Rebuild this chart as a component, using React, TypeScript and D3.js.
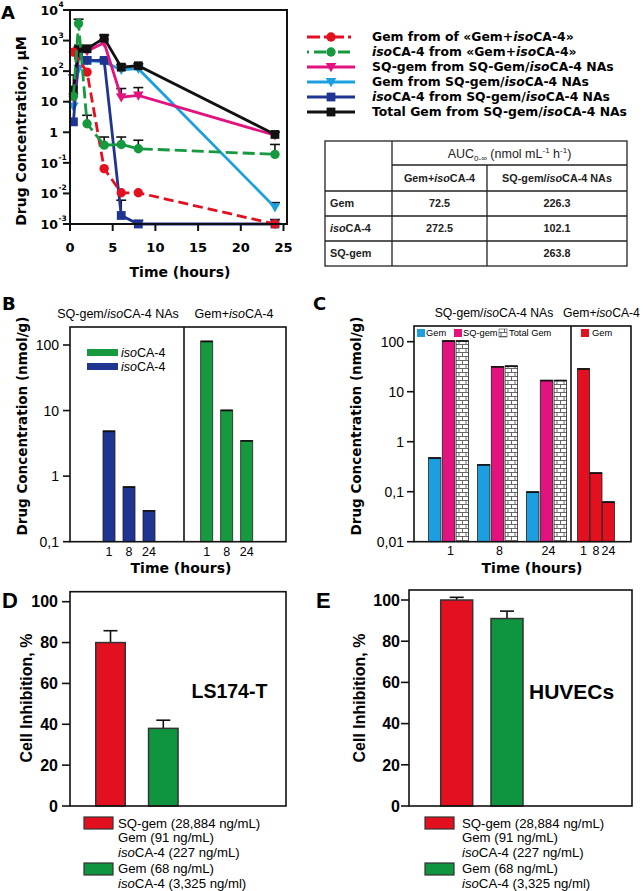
import React from "react";
import * as d3 from "d3";

// ---------------- Panel A data (plasma PK) ----------------
const timesA = [0.4, 1, 2, 4, 6, 8, 24];
const gemFreeTimes = [0.4, 2, 4, 6, 8, 24];
const gemFreeValues = [420, 93, 0.065, 0.0105, 0.0105, 0.001];
const isoFreeValues = [15, 3600, 1.9, 0.38, 0.4, 0.29, 0.19];
const isoFreeErr = [null, 5000, 3.6, 0.7, 0.7, 0.55, 0.4];
const sqGemValues = [14, 450, 450, 850, 14, 16, 0.8];
const sqGemErr = [null, null, null, null, 27, 29, null];
const gemNAValues = [7, 120, 220, 200, 110, 120, 0.0035];
const gemNAErr = [null, null, null, null, null, null, 0.005];
const isoNAValues = [2.2, 330, 225, 225, 0.0019, 0.001, 0.001];
const isoNAErr = [null, null, null, null, 0.006, 0.0013, 0.0014];
const totalGemValues = [24, 540, 540, 1200, 135, 150, 0.85];
const totalGemErr = [75, 620, 620, 1500, 165, 175, 1.0];
const xTicksA = [0, 5, 10, 15, 20, 25];
const yTicksA = [1e-3, 1e-2, 1e-1, 1, 10, 100, 1e3, 1e4];
const yTickBaseA = ["10", "10", "10", "1", "10", "10", "10", "10"];
const yTickExpA = ["-3", "-2", "-1", "", "", "2", "3", "4"];

// ---------------- AUC table ----------------
const aucRowLabels = [["Gem", ""], ["iso", "CA-4"], ["SQ-gem", ""]];
const aucFree = ["72.5", "272.5", ""];
const aucNA = ["226.3", "102.1", "263.8"];

// ---------------- Panel B data (tumour isoCA-4) ----------------
const hoursB = ["1", "8", "24"];
const isoNATissue = [4.9, 0.69, 0.3];
const isoFreeTissue = [115, 10.2, 3.5];
const yTicksB = [0.1, 1, 10, 100];
const yTickLabelsB = ["0,1", "1", "10", "100"];

// ---------------- Panel C data (tumour Gem) ----------------
const hoursC = ["1", "8", "24"];
const seriesC = ["Gem", "SQ-gem", "Total Gem"];
const gemNATissue = [0.48, 0.35, 0.1];
const sqGemTissue = [105, 32, 17];
const totalGemTissue = [105, 33, 17];
const gemFreeTissue = [29, 0.24, 0.063];
const yTicksC = [0.01, 0.1, 1, 10, 100];
const yTickLabelsC = ["0,01", "0,1", "1", "10", "100"];

// ---------------- Panel D / E data ----------------
const cellGroups = ["SQ-gem/isoCA-4 NAs", "Gem+isoCA-4"];
const ls174Values = [80, 38];
const ls174Err = [85.8, 42];
const huvecValues = [100, 91];
const huvecErr = [101.3, 94.6];
const yTicksDE = [0, 20, 40, 60, 80, 100];

const FV = "'DejaVu Sans', Verdana, sans-serif";
const FA = "'Liberation Sans', Arial, sans-serif";

const C_RED = "#e3101f";
const C_GREEN = "#17993f";
const C_MAG = "#e2137f";
const C_LBLUE = "#1b9fe0";
const C_NAVY = "#1f3591";
const C_BLACK = "#111";

type Seg = [string, boolean];

function Segs({ parts }: { parts: Seg[] }) {
  return (
    <>
      {parts.map((p, i) => (
        <tspan key={i} fontStyle={p[1] ? "italic" : "normal"}>
          {p[0]}
        </tspan>
      ))}
    </>
  );
}

function Marker({ type, x, y, color }: { type: string; x: number; y: number; color: string }) {
  if (type === "circ") return <circle cx={x} cy={y} r={4.7} fill={color} />;
  if (type === "sq") return <rect x={x - 4.4} y={y - 4.4} width={8.8} height={8.8} fill={color} />;
  return <path d={`M${x - 5.3},${y - 4}L${x + 5.3},${y - 4}L${x},${y + 5.2}Z`} fill={color} />;
}

// ---------------- Panel A ----------------
function PanelA() {
  const xA = d3.scaleLinear().domain([0, 25]).range([70, 283.5]);
  const yA = d3.scaleLog().domain([1e-3, 1e4]).range([224, 10]);
  const series = [
    { key: "gemNA", t: timesA, v: gemNAValues, e: gemNAErr, color: C_LBLUE, dash: "", m: "tri" },
    { key: "isoNA", t: timesA, v: isoNAValues, e: isoNAErr, color: C_NAVY, dash: "", m: "sq" },
    { key: "sqGem", t: timesA, v: sqGemValues, e: sqGemErr, color: C_MAG, dash: "", m: "tri" },
    { key: "total", t: timesA, v: totalGemValues, e: totalGemErr, color: C_BLACK, dash: "", m: "sq" },
    { key: "gemFree", t: gemFreeTimes, v: gemFreeValues, e: gemFreeValues.map(() => null), color: C_RED, dash: "10,5", m: "circ" },
    { key: "isoFree", t: timesA, v: isoFreeValues, e: isoFreeErr, color: C_GREEN, dash: "12,5", m: "circ" },
  ];
  const line = d3
    .line<[number, number]>()
    .x((d) => xA(d[0]))
    .y((d) => yA(d[1]));

  const legend: { parts: Seg[]; color: string; dash: string; m: string }[] = [
    { parts: [["Gem from of «Gem+", false], ["iso", true], ["CA-4»", false]], color: C_RED, dash: "13,4,3,4", m: "circ" },
    { parts: [["iso", true], ["CA-4 from «Gem+", false], ["iso", true], ["CA-4»", false]], color: C_GREEN, dash: "2,5,12,5", m: "circ" },
    { parts: [["SQ-gem from SQ-Gem/", false], ["iso", true], ["CA-4 NAs", false]], color: C_MAG, dash: "", m: "tri" },
    { parts: [["Gem from SQ-gem/", false], ["iso", true], ["CA-4 NAs", false]], color: C_LBLUE, dash: "", m: "tri" },
    { parts: [["iso", true], ["CA-4 from SQ-gem/", false], ["iso", true], ["CA-4 NAs", false]], color: C_NAVY, dash: "", m: "sq" },
    { parts: [["Total Gem from SQ-gem/", false], ["iso", true], ["CA-4 NAs", false]], color: C_BLACK, dash: "", m: "sq" },
  ];

  return (
    <g>
      <text x={1} y={19} fontFamily={FV} fontWeight="bold" fontSize={18}>A</text>
      {/* error bars */}
      {series.map((s) =>
        s.v.map((v, i) => {
          const e = s.e[i];
          if (e == null) return null;
          const x = xA(s.t[i]);
          return (
            <g key={s.key + "e" + i} stroke={C_BLACK} strokeWidth={1.6}>
              <line x1={x} x2={x} y1={yA(v)} y2={yA(e)} />
              <line x1={x - 5} x2={x + 5} y1={yA(e)} y2={yA(e)} />
            </g>
          );
        })
      )}
      {series.map((s) => (
        <g key={s.key}>
          <path
            d={line(s.t.map((t, i) => [t, s.v[i]] as [number, number])) || ""}
            fill="none"
            stroke={s.color}
            strokeWidth={2.8}
            strokeDasharray={s.dash || undefined}
          />
          {s.v.map((v, i) => (
            <Marker key={i} type={s.m} x={xA(s.t[i])} y={yA(v)} color={s.color} />
          ))}
        </g>
      ))}
      {/* frame */}
      <rect x={70} y={10} width={217} height={214} fill="none" stroke="#111" strokeWidth={2} />
      {/* y ticks */}
      {yTicksA.map((t, i) => (
        <g key={t}>
          <line x1={63} x2={70} y1={yA(t)} y2={yA(t)} stroke="#111" strokeWidth={2} />
          <text x={58} y={yA(t)} dy="0.38em" textAnchor="end" fontFamily={FV} fontWeight="bold" fontSize={12.5}>
            {yTickBaseA[i]}
          </text>
          {yTickExpA[i] && (
            <text x={58.5} y={yA(t) - 3} textAnchor="start" fontFamily={FV} fontWeight="bold" fontSize={7.5}>
              {yTickExpA[i]}
            </text>
          )}
        </g>
      ))}
      {/* x ticks */}
      {xTicksA.map((t) => (
        <g key={t}>
          <line x1={xA(t)} x2={xA(t)} y1={224} y2={231} stroke="#111" strokeWidth={2} />
          <text x={xA(t)} y={252} textAnchor="middle" fontFamily={FV} fontWeight="bold" fontSize={13}>
            {t}
          </text>
        </g>
      ))}
      <text x={180} y={277} textAnchor="middle" fontFamily={FV} fontWeight="bold" fontSize={14}>
        Time (hours)
      </text>
      <text
        transform={`translate(21,131) rotate(-90)`}
        textAnchor="middle"
        dy="0.36em"
        fontFamily={FV}
        fontWeight="bold"
        fontSize={14}
      >
        Drug Concentration, μM
      </text>
      {/* legend */}
      {legend.map((l, i) => {
        const y = 37 + i * 15;
        return (
          <g key={i}>
            <line x1={307} x2={355} y1={y} y2={y} stroke={l.color} strokeWidth={2.8} strokeDasharray={l.dash || undefined} />
            <Marker type={l.m} x={331} y={y} color={l.color} />
            <text x={372} y={y} dy="0.36em" fontFamily={FV} fontWeight="bold" fontSize={12.4}>
              <Segs parts={l.parts} />
            </text>
          </g>
        );
      })}
    </g>
  );
}

// ---------------- AUC Table ----------------
function AucTable() {
  const x0 = 325, x1 = 392, x2 = 487, x3 = 627;
  const rows = [141, 165, 191, 216, 241, 266];
  const fs = 10.8;
  return (
    <g fontFamily={FA} fontWeight="bold" fontSize={fs} fill="#222">
      <rect x={x0} y={rows[0]} width={x3 - x0} height={rows[5] - rows[0]} fill="none" stroke="#222" strokeWidth={1.3} />
      <line x1={x1} x2={x1} y1={rows[0]} y2={rows[5]} stroke="#222" strokeWidth={1.3} />
      <line x1={x2} x2={x2} y1={rows[1]} y2={rows[5]} stroke="#222" strokeWidth={1.3} />
      <line x1={x1} x2={x3} y1={rows[1]} y2={rows[1]} stroke="#222" strokeWidth={1.3} />
      {[2, 3, 4].map((r) => (
        <line key={r} x1={x0} x2={x3} y1={rows[r]} y2={rows[r]} stroke="#222" strokeWidth={1.3} />
      ))}
      <text x={(x1 + x3) / 2} y={(rows[0] + rows[1]) / 2} dy="0.36em" textAnchor="middle" fontWeight="normal" fontSize={12.5}>
        AUC<tspan fontSize={8} dy={3}>0-∞</tspan>
        <tspan dy={-3}> (nmol mL</tspan>
        <tspan fontSize={8} dy={-4.5}>-1</tspan>
        <tspan dy={4.5}> h</tspan>
        <tspan fontSize={8} dy={-4.5}>-1</tspan>
        <tspan dy={4.5}>)</tspan>
      </text>
      <text x={(x1 + x2) / 2} y={(rows[1] + rows[2]) / 2} dy="0.36em" textAnchor="middle">
        <Segs parts={[["Gem+", false], ["iso", true], ["CA-4", false]]} />
      </text>
      <text x={(x2 + x3) / 2} y={(rows[1] + rows[2]) / 2} dy="0.36em" textAnchor="middle">
        <Segs parts={[["SQ-gem/", false], ["iso", true], ["CA-4 NAs", false]]} />
      </text>
      {aucRowLabels.map((lab, i) => {
        const y = (rows[i + 2] + rows[i + 3]) / 2;
        return (
          <g key={i}>
            <text x={330} y={y} dy="0.36em">
              {lab[1] ? (
                <Segs parts={[[lab[0], true], [lab[1], false]]} />
              ) : (
                lab[0]
              )}
            </text>
            <text x={(x1 + x2) / 2} y={y} dy="0.36em" textAnchor="middle">{aucFree[i]}</text>
            <text x={(x2 + x3) / 2} y={y} dy="0.36em" textAnchor="middle">{aucNA[i]}</text>
          </g>
        );
      })}
    </g>
  );
}

function Bar({ x, w, y0, y1, fill }: { x: number; w: number; y0: number; y1: number; fill: string }) {
  return (
    <g>
      <rect x={x} y={y1} width={w} height={y0 - y1} fill={fill} stroke="#222" strokeWidth={0.8} />
      <line x1={x} x2={x + w} y1={y1 + 0.5} y2={y1 + 0.5} stroke="#111" strokeWidth={1.6} />
    </g>
  );
}

// ---------------- Panel B ----------------
function PanelB() {
  const yB = d3.scaleLog().domain([0.1, 100]).range([541.7, 345]);
  const xB1 = d3.scaleBand().domain(hoursB).range([99, 159]);
  const xB2 = d3.scaleBand().domain(hoursB).range([196.7, 256.7]);
  const bw = 12;
  const L = 70, R = 286, T = 327, Bt = 541.7, D = 184;
  return (
    <g>
      <text x={2} y={310} fontFamily={FV} fontWeight="bold" fontSize={18}>B</text>
      <text x={118} y={318} textAnchor="middle" fontFamily={FA} fontSize={12.5}>
        <Segs parts={[["SQ-gem/", false], ["iso", true], ["CA-4 NAs", false]]} />
      </text>
      <text x={234} y={318} textAnchor="middle" fontFamily={FA} fontSize={12.5}>
        <Segs parts={[["Gem+", false], ["iso", true], ["CA-4", false]]} />
      </text>
      {hoursB.map((h, i) => (
        <g key={h}>
          <Bar x={(xB1(h) as number) + (xB1.bandwidth() - bw) / 2} w={bw} y0={Bt} y1={yB(isoNATissue[i])} fill={C_NAVY} />
          <Bar x={(xB2(h) as number) + (xB2.bandwidth() - bw) / 2} w={bw} y0={Bt} y1={yB(isoFreeTissue[i])} fill={C_GREEN} />
          <text x={(xB1(h) as number) + xB1.bandwidth() / 2} y={556} textAnchor="middle" fontFamily={FA} fontSize={12.5}>{h}</text>
          <text x={(xB2(h) as number) + xB2.bandwidth() / 2} y={556} textAnchor="middle" fontFamily={FA} fontSize={12.5}>{h}</text>
        </g>
      ))}
      <g stroke="#111" strokeWidth={1.6} fill="none">
        <rect x={L} y={T} width={R - L} height={Bt - T} />
        <line x1={D} x2={D} y1={T} y2={Bt} />
      </g>
      {yTicksB.map((t, i) => (
        <g key={t}>
          <line x1={63} x2={L} y1={yB(t)} y2={yB(t)} stroke="#111" strokeWidth={1.6} />
          <text x={59} y={yB(t)} dy="0.36em" textAnchor="end" fontFamily={FA} fontSize={14}>{yTickLabelsB[i]}</text>
        </g>
      ))}
      {/* legend */}
      <rect x={87} y={349} width={31} height={7} fill={C_GREEN} />
      <rect x={87} y={363} width={31} height={7} fill={C_NAVY} />
      <text x={121} y={352.5} dy="0.36em" fontFamily={FA} fontSize={12.5}>
        <Segs parts={[["iso", true], ["CA-4", false]]} />
      </text>
      <text x={121} y={366.5} dy="0.36em" fontFamily={FA} fontSize={12.5}>
        <Segs parts={[["iso", true], ["CA-4", false]]} />
      </text>
      <text x={181} y={573} textAnchor="middle" fontFamily={FV} fontWeight="bold" fontSize={14}>Time (hours)</text>
      <text transform={`translate(22,426) rotate(-90)`} textAnchor="middle" dy="0.36em" fontFamily={FV} fontWeight="bold" fontSize={13.5}>
        Drug Concentration  (nmol/g)
      </text>
    </g>
  );
}

// ---------------- Panel C ----------------
function PanelC() {
  const yC = d3.scaleLog().domain([0.01, 100]).range([541.7, 341.7]);
  const xG = d3.scaleBand().domain(hoursC).range([424, 571]);
  const xS = d3.scaleBand().domain(seriesC).range([-20, 20]).paddingInner(0.1);
  const xR = d3.scaleBand().domain(hoursC).range([577.5, 615]);
  const L = 414, R = 631, T = 326, Bt = 541.7, D = 571;
  const valsC = [gemNATissue, sqGemTissue, totalGemTissue];
  const fills = [C_LBLUE, C_MAG, "url(#brick)"];
  return (
    <g>
      <text x={313} y={310} fontFamily={FV} fontWeight="bold" fontSize={18}>C</text>
      <text x={494} y={317} textAnchor="middle" fontFamily={FA} fontSize={12.2}>
        <Segs parts={[["SQ-gem/", false], ["iso", true], ["CA-4 NAs", false]]} />
      </text>
      <text x={563} y={317} textAnchor="start" fontFamily={FA} fontSize={12.2}>
        <Segs parts={[["Gem+", false], ["iso", true], ["CA-4", false]]} />
      </text>
      {hoursC.map((h, i) => {
        const cx = (xG(h) as number) + xG.bandwidth() / 2;
        return (
          <g key={h}>
            {seriesC.map((s, j) => (
              <Bar key={s} x={cx + (xS(s) as number)} w={xS.bandwidth()} y0={Bt} y1={yC(valsC[j][i])} fill={fills[j]} />
            ))}
            <Bar x={(xR(h) as number)} w={12} y0={Bt} y1={yC(gemFreeTissue[i])} fill={C_RED} />
            <text x={cx + 2} y={555} textAnchor="middle" fontFamily={FA} fontSize={12.5}>{h}</text>
            <text x={(xR(h) as number) + 6} y={555} textAnchor="middle" fontFamily={FA} fontSize={12.5}>{h}</text>
          </g>
        );
      })}
      <g stroke="#111" strokeWidth={1.6} fill="none">
        <rect x={L} y={T} width={R - L} height={Bt - T} />
        <line x1={D} x2={D} y1={T} y2={Bt} />
      </g>
      {yTicksC.map((t, i) => (
        <g key={t}>
          <line x1={407} x2={L} y1={yC(t)} y2={yC(t)} stroke="#111" strokeWidth={1.6} />
          <text x={404} y={yC(t)} dy="0.36em" textAnchor="end" fontFamily={FA} fontSize={14}>{yTickLabelsC[i]}</text>
        </g>
      ))}
      {/* legend */}
      <g fontFamily={FA} fontSize={9.3}>
        <rect x={417} y={329} width={8} height={8} fill={C_LBLUE} />
        <text x={426} y={333} dy="0.36em">Gem</text>
        <rect x={454} y={329} width={8} height={8} fill={C_MAG} />
        <text x={463} y={333} dy="0.36em">SQ-gem</text>
        <rect x={499} y={329} width={8} height={8} fill="url(#brick)" stroke="#444" strokeWidth={0.6} />
        <text x={509} y={333} dy="0.36em">Total Gem</text>
        <rect x={581} y={329} width={8} height={8} fill={C_RED} />
        <text x={592} y={333} dy="0.36em">Gem</text>
      </g>
      <text x={532} y={573} textAnchor="middle" fontFamily={FV} fontWeight="bold" fontSize={14}>Time (hours)</text>
      <text transform={`translate(356,426) rotate(-90)`} textAnchor="middle" dy="0.36em" fontFamily={FV} fontWeight="bold" fontSize={13.5}>
        Drug Concentration  (nmol/g)
      </text>
    </g>
  );
}

// ---------------- Panels D & E ----------------
function CellPanel({
  letter, lx, values, errs, L, R, T, y100, barX, barW, name, nameX, ylabX, labX, legX, legSwX, nameSize,
}: {
  letter: string; lx: number; values: number[]; errs: number[]; L: number; R: number; T: number; y100: number;
  barX: [number, number]; barW: number; name: string; nameX: number; ylabX: number; labX: number; legX: number; legSwX: number; nameSize: number;
}) {
  const Bt = 806;
  const y = d3.scaleLinear().domain([0, 100]).range([Bt, y100]);
  const x = d3.scalePoint().domain(cellGroups).range(barX);
  const colors = [C_RED, "#0f9440"];
  const legLines: Seg[][] = [
    [["SQ-gem (28,884 ng/mL)", false]],
    [["Gem (91 ng/mL)", false]],
    [["iso", true], ["CA-4 (227 ng/mL)", false]],
    [["Gem (68 ng/mL)", false]],
    [["iso", true], ["CA-4 (3,325 ng/ml)", false]],
  ];
  return (
    <g>
      <text x={lx} y={608} fontFamily={FA} fontWeight="bold" fontSize={22}>{letter}</text>
      {cellGroups.map((g, i) => {
        const cx = x(g) as number;
        return (
          <g key={g}>
            <line x1={cx} x2={cx} y1={y(values[i])} y2={y(errs[i])} stroke="#111" strokeWidth={1.6} />
            <line x1={cx - 7} x2={cx + 7} y1={y(errs[i])} y2={y(errs[i])} stroke="#111" strokeWidth={1.6} />
            <rect x={cx - barW / 2} y={y(values[i])} width={barW} height={Bt - y(values[i])} fill={colors[i]} stroke="#333" strokeWidth={1.5} />
          </g>
        );
      })}
      <rect x={L} y={T} width={R - L} height={Bt - T} fill="none" stroke="#111" strokeWidth={1.6} />
      {yTicksDE.map((t) => (
        <g key={t}>
          <line x1={L - 8} x2={L} y1={y(t)} y2={y(t)} stroke="#111" strokeWidth={1.6} />
          <text x={labX} y={y(t)} dy="0.36em" textAnchor="end" fontFamily={FA} fontWeight="bold" fontSize={16}>{t}</text>
        </g>
      ))}
      <text x={nameX} y={691} dy="0.36em" fontFamily={FA} fontWeight="bold" fontSize={nameSize}>{name}</text>
      <text transform={`translate(${ylabX},698) rotate(-90)`} textAnchor="middle" dy="0.36em" fontFamily={FA} fontWeight="bold" fontSize={16}>
        Cell Inhibition, %
      </text>
      <rect x={legSwX} y={817} width={29} height={12} fill={colors[0]} stroke="#333" strokeWidth={1.2} />
      <rect x={legSwX} y={863} width={29} height={12} fill={colors[1]} stroke="#333" strokeWidth={1.2} />
      {legLines.map((parts, i) => (
        <text key={i} x={legX} y={[823, 837.5, 852, 868.5, 883][i]} dy="0.36em" fontFamily={FA} fontSize={13.2}>
          <Segs parts={parts} />
        </text>
      ))}
    </g>
  );
}

export default function App() {
  return (
    <svg
      width={643}
      height={891}
      viewBox="0 0 643 891"
      style={{ position: "absolute", left: 0, top: 0, background: "#fff", display: "block" }}
    >
      <defs>
        <pattern id="brick" width={7} height={8} patternUnits="userSpaceOnUse">
          <rect width={7} height={8} fill="#fff" />
          <path d="M0,0.5H7M0,4.5H7M0.5,0.5V4.5M4,4.5V8" stroke="#444" strokeWidth={0.8} fill="none" />
        </pattern>
      </defs>
      <rect width={643} height={891} fill="#fff" />
      <PanelA />
      <AucTable />
      <PanelB />
      <PanelC />
      <CellPanel
        letter="D" lx={2} values={ls174Values} errs={ls174Err} L={70} R={286} T={591.7} y100={601.7}
        barX={[110.5, 163.3]} barW={29.5} name="LS174-T" nameX={191.5} ylabX={26} labX={58} legX={118} legSwX={84} nameSize={19.5}
      />
      <CellPanel
        letter="E" lx={316} values={huvecValues} errs={huvecErr} L={409} R={632} T={590} y100={600}
        barX={[456.7, 507]} barW={32} name="HUVECs" nameX={529} ylabX={359} labX={400} legX={462} legSwX={425} nameSize={21}
      />
    </svg>
  );
}
